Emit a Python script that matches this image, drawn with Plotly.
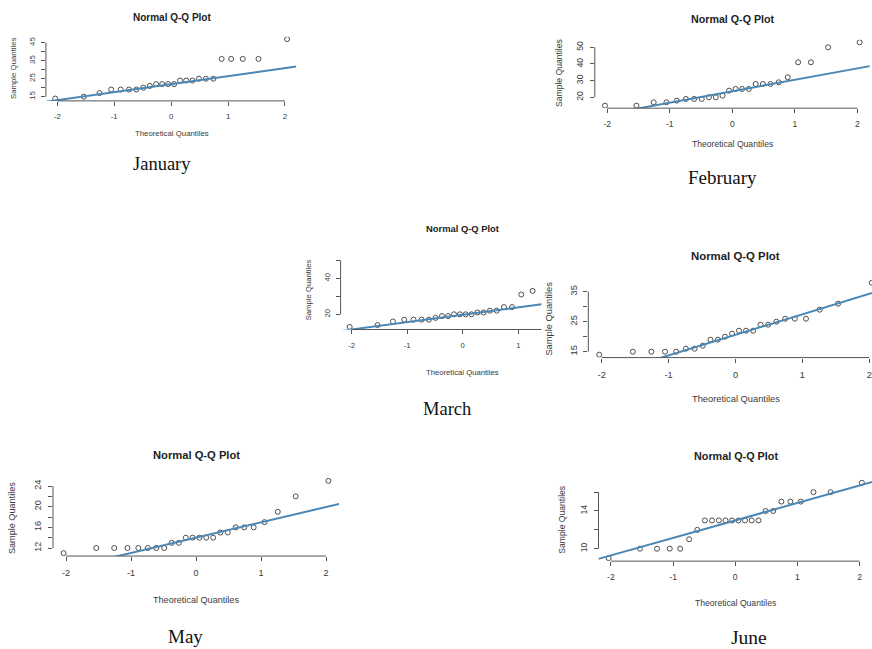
import numpy as np
import plotly.graph_objects as go

# ---------------- data ----------------
theoretical_quantiles = [-2.037, -1.534, -1.258, -1.054, -0.887, -0.742, -0.611, -0.489,
                         -0.374, -0.264, -0.157, -0.052, 0.052, 0.157, 0.264, 0.374,
                         0.489, 0.611, 0.742, 0.887, 1.054, 1.258, 1.534, 2.037]

january = [14, 15, 17, 19, 19, 19, 19, 20, 21, 22, 22, 22, 22, 24, 24, 24, 25, 25, 25, 36, 36, 36, 36, 47]
february = [15, 15, 17, 17, 18, 19, 19, 19, 20, 20, 21, 24, 25, 25, 25, 28, 28, 28, 29, 32, 41, 41, 50, 53]
march = [13, 14, 16, 17, 17, 17, 17, 18, 19, 19, 20, 20, 20, 20, 21, 21, 22, 22, 24, 24, 31, 33, 40, 49]
april = [14, 15, 15, 15, 15, 16, 16, 17, 19, 19, 20, 21, 22, 22, 22, 24, 24, 25, 26, 26, 26, 29, 31, 38]
may = [11, 12, 12, 12, 12, 12, 12, 12, 13, 13, 14, 14, 14, 14, 14, 15, 15, 16, 16, 16, 17, 19, 22, 25]
june = [9, 10, 10, 10, 10, 11, 12, 13, 13, 13, 13, 13, 13, 13, 13, 13, 14, 14, 15, 15, 15, 16, 16, 17]

x_tick_values = [-2, -1, 0, 1, 2]
x_tick_labels = ["-2", "-1", "0", "1", "2"]

jan_y_ticks = [15, 20, 25, 30, 35, 40, 45]
jan_y_labels = ["15", "", "25", "", "35", "", "45"]
feb_y_ticks = [20, 30, 40, 50]
feb_y_labels = ["20", "30", "40", "50"]
mar_y_ticks = [20, 30, 40, 50]
mar_y_labels = ["20", "", "40", ""]
apr_y_ticks = [15, 20, 25, 30, 35]
apr_y_labels = ["15", "", "25", "", "35"]
may_y_ticks = [12, 14, 16, 18, 20, 22, 24]
may_y_labels = ["12", "", "16", "", "20", "", "24"]
jun_y_ticks = [10, 12, 14, 16]
jun_y_labels = ["10", "", "14", ""]

plot_title = "Normal Q-Q Plot"
x_title = "Theoretical Quantiles"
y_title = "Sample Quantiles"
month_labels = ["January", "February", "March", None, "May", "June"]

# ---------------- layout (pixel geometry of each panel) ----------------
W, H = 872, 649
panels = [
    dict(vals=january, yt=jan_y_ticks, yl=jan_y_labels, xpx=(57.3, 285.0), xv=(-2, 2),
         ypx=((15, 96.7), (45, 42.7)), xmax=2.2,
         title=(172, 18), xlab=(172, 134), ylab=(13, 68), month=(162, 164),
         fst=10, fs=7.8, fsm=18.5),
    dict(vals=february, yt=feb_y_ticks, yl=feb_y_labels, xpx=(607.3, 857.3), xv=(-2, 2),
         ypx=((20, 97.3), (50, 47.3)), xmax=2.2,
         title=(733, 19), xlab=(732, 144), ylab=(559, 73), month=(722.7, 177),
         fst=10.7, fs=8.6, fsm=19),
    dict(vals=march, yt=mar_y_ticks, yl=mar_y_labels, xpx=(351.7, 518.3), xv=(-2, 1),
         ypx=((20, 314.3), (40, 278.3)), xmax=1.42,
         title=(463, 228), xlab=(462.7, 372.3), ylab=(308.3, 290), month=(446.7, 409),
         fst=9.4, fs=7.7, fsm=18.5),
    dict(vals=april, yt=apr_y_ticks, yl=apr_y_labels, xpx=(601.7, 869.3), xv=(-2, 2),
         ypx=((15, 351.7), (35, 291.7)), xmax=2.04,
         title=(735.7, 255.7), xlab=(735.7, 399.3), ylab=(549.3, 318.3), month=None,
         fst=11.4, fs=9.3, fsm=19),
    dict(vals=may, yt=may_y_ticks, yl=may_y_labels, xpx=(66, 326), xv=(-2, 2),
         ypx=((12, 548), (24, 486)), xmax=2.2,
         title=(196, 455), xlab=(196, 600), ylab=(12.7, 518.3), month=(185, 636),
         fst=11.2, fs=9.1, fsm=19),
    dict(vals=june, yt=jun_y_ticks, yl=jun_y_labels, xpx=(611, 860.7), xv=(-2, 2),
         ypx=((10, 548.7), (14, 511)), xmax=2.2,
         title=(735.7, 456), xlab=(735.7, 603.3), ylab=(561.7, 520), month=(749.3, 637.5),
         fst=10.8, fs=8.6, fsm=19.5),
]

TEXT = "#3a3a3a"
AXIS = "#555555"
LINE = "#4a87b5"
SANS = "Liberation Sans, Arial, sans-serif"
SERIF = "Liberation Serif, Times New Roman, serif"

fig = go.Figure()
annotations = []
shapes = []
z75 = 0.6744897501960817

for i, p in enumerate(panels):
    n = "" if i == 0 else str(i + 1)
    xa, ya = "x" + n, "y" + n
    vals = np.array(p["vals"], dtype=float)
    theo = np.array(theoretical_quantiles)

    # R-style ranges: data range extended by 4 %
    xr0 = theo.min() - 0.04 * (theo.max() - theo.min())
    xr1 = p["xmax"]
    span = vals.max() - vals.min()
    yr0, yr1 = vals.min() - 0.04 * span, vals.max() + 0.04 * span

    # domains from measured pixel mapping
    (px1, px2), (v1, v2) = p["xpx"], p["xv"]
    xs = (px2 - px1) / (v2 - v1)
    left = px1 + (xr0 - v1) * xs
    right = px1 + (xr1 - v1) * xs
    (va, pa), (vb, pb) = p["ypx"]
    ys = (pa - pb) / (vb - va)
    bottom = pa + (va - yr0) * ys
    top = pa - (yr1 - va) * ys

    fig.add_trace(go.Scatter(
        x=theo, y=vals, mode="markers", xaxis=xa, yaxis=ya, showlegend=False,
        marker=dict(symbol="circle-open", size=5, color="#4d4d4d", line=dict(width=1)),
        hoverinfo="x+y"))

    # qqline through the quartiles
    q1, q3 = np.percentile(vals, [25, 75])
    slope = (q3 - q1) / (2 * z75)
    intercept = q1 + slope * z75
    lx = np.array([xr0, xr1])
    fig.add_trace(go.Scatter(
        x=lx, y=intercept + slope * lx, mode="lines", xaxis=xa, yaxis=ya,
        showlegend=False, line=dict(color=LINE, width=2), hoverinfo="skip"))

    key = "" if i == 0 else str(i + 1)
    fig.update_layout(**{
        "xaxis" + key: dict(
            domain=[max(left / W, 0), min(right / W, 1)], range=[xr0, xr1], anchor=ya,
            showgrid=False, zeroline=False, showline=False,
            ticks="outside", ticklen=4, tickwidth=1, tickcolor=AXIS,
            tickvals=x_tick_values, ticktext=x_tick_labels,
            tickfont=dict(family=SANS, size=p["fs"], color=TEXT), ticklabelstandoff=4),
        "yaxis" + key: dict(
            domain=[1 - bottom / H, 1 - top / H], range=[yr0, yr1], anchor=xa,
            showgrid=False, zeroline=False, showline=False,
            ticks="outside", ticklen=4, tickwidth=1, tickcolor=AXIS,
            tickvals=p["yt"], ticktext=p["yl"], tickangle=-90,
            tickfont=dict(family=SANS, size=p["fs"], color=TEXT), ticklabelstandoff=3),
    })

    # R-style detached axis lines
    shapes.append(dict(type="line", xref=xa, yref=ya + " domain",
                       x0=-2, x1=min(2, xr1), y0=0, y1=0,
                       line=dict(color=AXIS, width=1)))
    shapes.append(dict(type="line", xref=xa + " domain", yref=ya,
                       x0=0, x1=0, y0=min(p["yt"]), y1=max(p["yt"]),
                       line=dict(color=AXIS, width=1)))

    def ann(text, pos, size, family=SANS, angle=0, bold=False, color=TEXT):
        annotations.append(dict(
            text=("<b>%s</b>" % text) if bold else text,
            x=pos[0] / W, y=1 - pos[1] / H, xref="paper", yref="paper",
            xanchor="center", yanchor="middle", showarrow=False, textangle=angle,
            font=dict(family=family, size=size, color=color)))

    ann(plot_title, p["title"], p["fst"], bold=True, color="#222222")
    ann(x_title, p["xlab"], p["fs"])
    ann(y_title, p["ylab"], p["fs"], angle=-90)
    if month_labels[i] and p["month"]:
        ann(month_labels[i], p["month"], p["fsm"], family=SERIF, color="#111111")

fig.update_layout(
    width=W, height=H, margin=dict(l=0, r=0, t=0, b=0),
    paper_bgcolor="white", plot_bgcolor="white",
    annotations=annotations, shapes=shapes, showlegend=False)

fig.write_html("out.html",
               config={"displayModeBar": False},
               post_script="document.body.style.margin='0px';"
                           "document.body.style.overflow='hidden';")
